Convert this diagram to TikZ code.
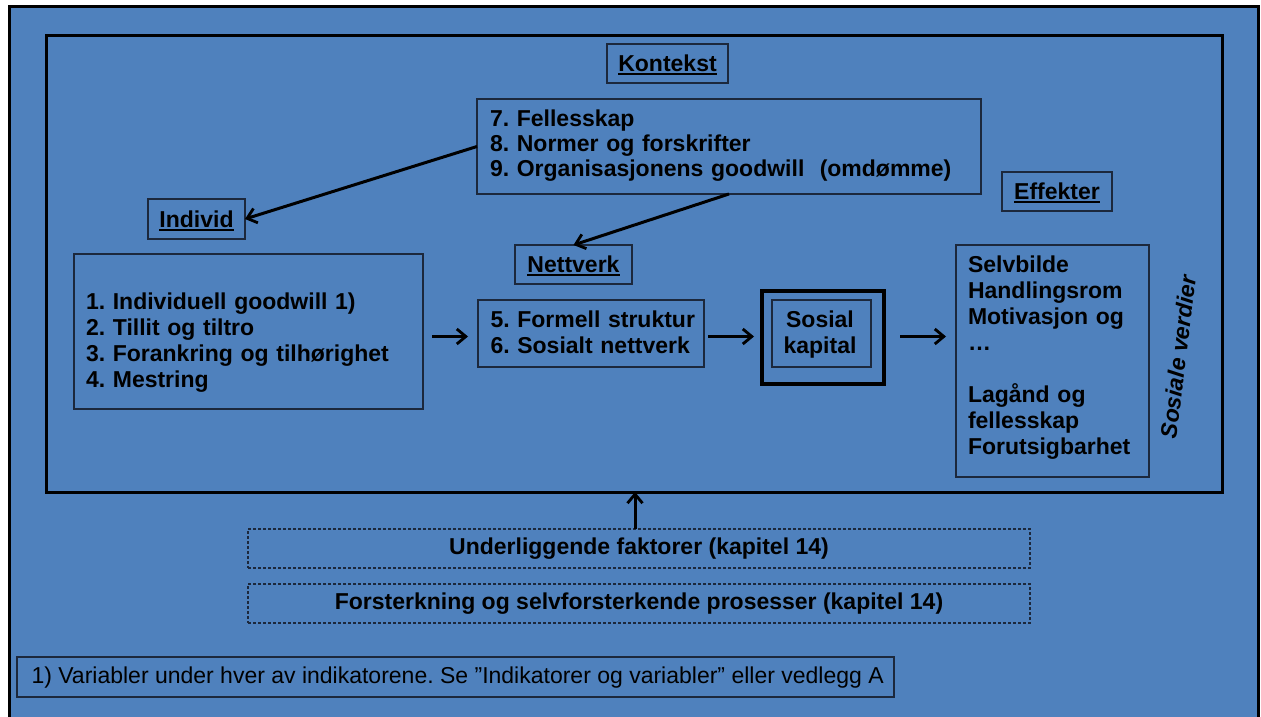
\documentclass[tikz,border=0pt]{standalone}
\usepackage{fontspec}
\setmainfont{Liberation Sans}
\usetikzlibrary{arrows.meta}
\definecolor{slide}{RGB}{79,129,189}
\definecolor{edge}{RGB}{28,40,60}
% thick underline for the section headings
\newcommand\headul[1]{\setbox0\hbox{#1}\rlap{\rule[-3.5pt]{\wd0}{2pt}}\box0}
\frenchspacing
\begin{document}
\begin{tikzpicture}[x=1pt,y=-1pt,
  every node/.style={inner sep=0pt, outer sep=0pt},
  box/.style={draw=edge, line width=1.3pt, rectangle},
  head/.style={box, font=\fontsize{23}{26}\selectfont\bfseries,
    text height=16.5pt, text depth=0pt},
  lines/.style={font=\fontsize{23}{26}\selectfont\bfseries, align=left, text width=#1},
  lines/.default=300pt,
  dashbox/.style={draw=edge, line width=1.1pt, dash pattern=on 3pt off 2pt,
    minimum width=782pt, minimum height=39pt},
  link/.style={line width=3pt, -{Straight Barb[length=9pt,width=15pt,line width=2.8pt]}},
]
\useasboundingbox (0,0) rectangle (1261,717);
\fill[white] (0,0) rectangle (1261,717);

% slide background with its frame (open at the bottom)
\fill[slide] (9,7) rectangle (1258,724);
\draw[line width=3pt] (9,724) -- (9,7) -- (1258,7) -- (1258,724);

% main frame
\node[draw=black, line width=3pt, minimum width=1175.5pt, minimum height=456.5pt]
  (frame) at (634.25,263.75) {};

% context
\node[head, minimum width=121pt, minimum height=39pt] (kontekst) at (667.5,63.5) {\headul{Kontekst}};
\node[box, minimum width=504pt, minimum height=95pt] (ctx) at (729,146.5) {};
\node[lines=480pt, anchor=base west, font=\fontsize{23}{25}\selectfont\bfseries] (ctxtxt) at (490,126)
  {7. Fellesskap\\8. Normer og forskrifter\\9. Organisasjonens goodwill\ \ (omdømme)};

% individual
\node[head, minimum width=97pt, minimum height=40pt] (individ) at (196.5,219) {\headul{Individ}};
\node[box, minimum width=349pt, minimum height=155pt] (indbox) at (248.5,331.5) {};
\node[lines=330pt, anchor=base west] (indtxt) at (86,309)
  {1. Individuell goodwill 1)\\2. Tillit og tiltro\\3. Forankring og tilhørighet\\4. Mestring};

% network
\node[head, minimum width=117pt, minimum height=39pt] (nettverk) at (573.5,264.5) {\headul{Nettverk}};
\node[box, minimum width=226pt, minimum height=67pt] (netbox) at (591,333.5) {};
\node[lines=210pt, anchor=base west] (nettxt) at (490.5,327)
  {5. Formell struktur\\6. Sosialt nettverk};

% social capital
\node[draw=black, line width=3.5pt, minimum width=122pt, minimum height=93pt] (sosial) at (823,337.5) {};
\node[box, minimum width=99pt, minimum height=67pt] (sosinner) at (821.5,333.5) {};
\node[lines=99pt, align=center, anchor=base] (sostxt) at (820,327) {Sosial\\kapital};

% effects
\node[head, minimum width=110pt, minimum height=39pt] (effekter) at (1057,191.5) {\headul{Effekter}};
\node[box, minimum width=193pt, minimum height=232pt] (effbox) at (1052.5,361) {};
\node[lines=175pt, anchor=base west] (efftxt) at (968,272)
  {Selvbilde\\Handlingsrom\\Motivasjon og\\…\\[26pt]Lagånd og\\fellesskap\\Forutsigbarhet};
\node[font=\fontsize{23}{26}\selectfont\bfseries\itshape, rotate=83] (verdier) at (1178,357) {Sosiale verdier};

% underlying processes
\node[dashbox, font=\fontsize{23}{26}\selectfont\bfseries] (und) at (639,548.5) {Underliggende faktorer (kapitel 14)};
\node[dashbox, font=\fontsize{23}{26}\selectfont\bfseries] (fors) at (639,603.5) {Forsterkning og selvforsterkende prosesser (kapitel 14)};

% footnote
\node[box, minimum width=877pt, minimum height=40pt] (note) at (455.5,677) {};
\node[anchor=base west, font=\fontsize{23}{25}\selectfont] (notetxt) at (31.5,683.5)
  {1) Variabler under hver av indikatorene. Se ”Indikatorer og variabler” eller vedlegg A};

% connectors
\draw[link] (ctx.west) -- (individ.east);
\draw[link] (ctx.south) -- (nettverk.north);
\draw[link, shorten <=9pt, shorten >=10pt] ([yshift=-3pt]indbox.east |- netbox.west) -- ([yshift=-3pt]netbox.west);
\draw[link, shorten <=4pt, shorten >=8pt] ([yshift=-3pt]netbox.east) -- ([yshift=-3pt]netbox.east -| sosial.west);
\draw[link, shorten <=16pt, shorten >=10pt] ([yshift=-3pt]netbox.east -| sosial.east) -- ([yshift=-3pt]netbox.east -| effbox.west);
\draw[link] ([xshift=-4pt]und.north) -- ([xshift=-4pt]und.north |- frame.south);
\end{tikzpicture}
\end{document}
